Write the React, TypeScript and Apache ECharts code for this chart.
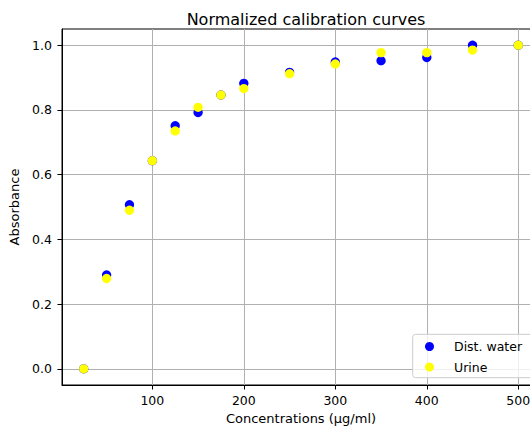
import React, { useEffect, useRef } from "react";
import * as echarts from "echarts";

const concentrations = [25, 50, 75, 100, 125, 150, 175, 200, 250, 300, 350, 400, 450, 500];
const distWater = [0.0, 0.29, 0.507, 0.643, 0.751, 0.792, 0.846, 0.882, 0.916, 0.948, 0.952, 0.962, 1.0, 1.0];
const urine = [0.0, 0.279, 0.49, 0.643, 0.735, 0.808, 0.846, 0.866, 0.912, 0.942, 0.977, 0.977, 0.985, 1.0];
const xTicks = [100, 200, 300, 400, 500];
const yTicks = [0.0, 0.2, 0.4, 0.6, 0.8, 1.0];

const FONT = "DejaVu Sans";
const FS = 12.5;
const NAME_FS = 13;

export default function App() {
  const ref = useRef<HTMLDivElement>(null);
  useEffect(() => {
    if (!ref.current) return;
    const chart = echarts.init(ref.current, undefined, { renderer: "svg" });
    const pairs = (ys: number[]) => concentrations.map((x, i) => [x, ys[i]]);
    chart.setOption({
      animation: false,
      backgroundColor: "#ffffff",
      title: {
        text: "Normalized calibration curves",
        left: 301,
        textAlign: "center",
        top: 6,
        textStyle: { fontFamily: FONT, fontSize: 16, fontWeight: "normal", color: "#000" },
      },
      grid: {
        left: 62,
        top: 29,
        width: 478,
        height: 356,
        show: true,
        borderColor: "#000",
        borderWidth: 1,
        backgroundColor: "transparent",
      },
      xAxis: {
        type: "value",
        min: 1.25,
        max: 523.75,
        name: "Concentrations (µg/ml)",
        nameLocation: "middle",
        nameGap: 25.5,
        nameTextStyle: { fontFamily: FONT, fontSize: NAME_FS, color: "#000" },
        axisLine: { show: true, onZero: false, lineStyle: { color: "#000", width: 1 } },
        axisTick: { show: true, length: 4.5, customValues: xTicks, lineStyle: { color: "#000" } },
        axisLabel: {
          customValues: xTicks,
          margin: 9,
          fontFamily: FONT,
          fontSize: FS,
          color: "#000",
        },
        splitLine: { show: true, lineStyle: { color: "#b0b0b0", width: 1 } },
      },
      yAxis: {
        type: "value",
        min: -0.05,
        max: 1.05,
        name: "Absorbance",
        nameLocation: "middle",
        nameGap: 38,
        nameTextStyle: { fontFamily: FONT, fontSize: NAME_FS, color: "#000" },
        axisLine: { show: true, onZero: false, lineStyle: { color: "#000", width: 1 } },
        axisTick: { show: true, length: 4.5, customValues: yTicks, lineStyle: { color: "#000" } },
        axisLabel: {
          customValues: yTicks,
          margin: 10,
          fontFamily: FONT,
          fontSize: FS,
          color: "#000",
          formatter: (v: number) => v.toFixed(1),
        },
        splitLine: { show: true, lineStyle: { color: "#b0b0b0", width: 1 } },
      },
      legend: {
        orient: "vertical",
        left: 425,
        top: 340,
        padding: 0,
        itemWidth: 39,
        itemHeight: 9,
        itemGap: 7.5,
        icon: "circle",
        textStyle: { fontFamily: FONT, fontSize: FS, color: "#000" },
        data: ["Dist. water", "Urine"],
      },
      graphic: [
        {
          type: "rect",
          z: 3,
          shape: { x: 412.7, y: 334.3, width: 130, height: 43.4, r: 3 },
          style: { fill: "rgba(255,255,255,0.8)", stroke: "#cccccc", lineWidth: 1 },
        },
      ],
      series: [
        {
          name: "Dist. water",
          type: "scatter",
          data: pairs(distWater),
          symbolSize: 9.3,
          itemStyle: { color: "#0000ff", opacity: 1 },
        },
        {
          name: "Urine",
          type: "scatter",
          data: pairs(urine),
          symbolSize: 9.3,
          itemStyle: { color: "#ffff00", opacity: 1 },
        },
      ],
    });
    return () => chart.dispose();
  }, []);
  return (
    <div style={{ position: "absolute", left: 0, top: 0, width: 530, height: 430, overflow: "hidden" }}>
      <div ref={ref} style={{ width: 541, height: 430 }} />
    </div>
  );
}
